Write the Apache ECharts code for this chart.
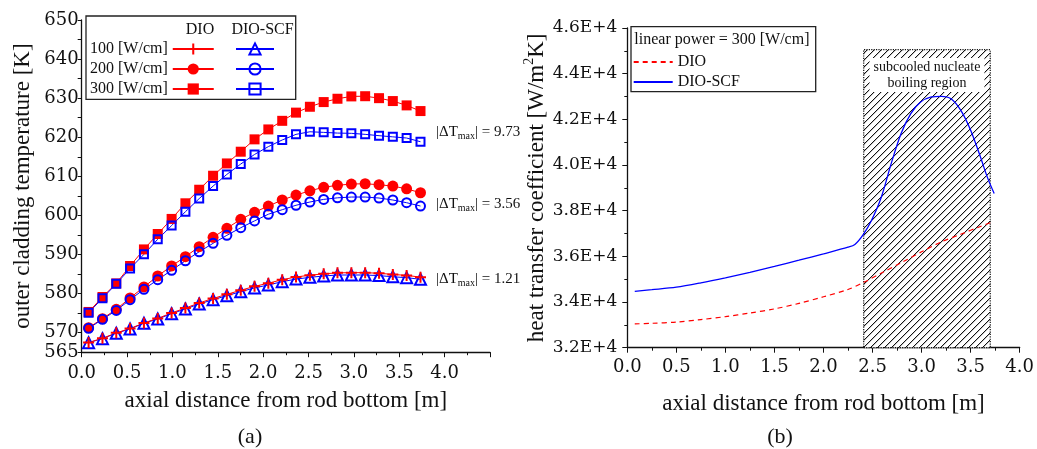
<!DOCTYPE html>
<html><head><meta charset="utf-8">
<script src="https://cdn.jsdelivr.net/npm/echarts@6/dist/echarts.min.js"></script>
<style>html,body{margin:0;padding:0;background:#fff}#c{width:1037px;height:449px}</style>
</head><body><div id="c"></div>
<script>
// ---------- (a) outer cladding temperature ----------
const xPos = [0.076, 0.229, 0.381, 0.533, 0.686, 0.838, 0.991, 1.143, 1.295, 1.448, 1.600, 1.753, 1.905,
              2.057, 2.210, 2.362, 2.515, 2.667, 2.819, 2.972, 3.124, 3.277, 3.429, 3.581, 3.734];
const dio100 = [567.50, 568.55, 569.95, 571.05, 572.50, 573.65, 575.05, 576.30, 577.60, 578.75, 579.80, 580.85, 581.85,
                582.65, 583.55, 584.25, 584.70, 585.05, 585.30, 585.35, 585.35, 585.20, 584.90, 584.65, 584.20];
const scf100 = [567.44, 568.47, 569.85, 570.95, 572.40, 573.50, 574.86, 576.06, 577.34, 578.44, 579.46, 580.49, 581.45,
                582.20, 583.05, 583.70, 584.15, 584.50, 584.75, 584.75, 584.75, 584.60, 584.30, 584.07, 583.65];
const dio200 = [571.28, 573.58, 575.98, 578.87, 581.69, 584.50, 587.06, 589.44, 592.00, 594.40, 596.70, 599.00, 600.80,
                602.40, 603.94, 605.20, 606.30, 607.20, 607.70, 608.03, 608.10, 607.85, 607.50, 606.80, 605.80];
const scf200 = [571.10, 573.40, 575.70, 578.44, 581.10, 583.56, 585.96, 588.40, 590.70, 592.86, 594.90, 596.85, 598.60,
                600.30, 601.46, 602.60, 603.43, 604.10, 604.50, 604.70, 604.70, 604.45, 603.94, 603.25, 602.40];
const dio300 = [575.30, 579.13, 582.60, 587.06, 591.30, 595.24, 599.10, 603.10, 606.57, 610.15, 613.30, 616.30, 619.46,
                622.00, 624.20, 626.30, 627.80, 629.00, 629.85, 630.45, 630.50, 630.00, 629.26, 628.15, 626.70];
const scf300 = [575.10, 578.80, 582.50, 586.40, 590.05, 593.90, 597.40, 600.95, 604.30, 607.50, 610.50, 613.15, 615.60,
                617.60, 619.30, 620.74, 621.40, 621.25, 621.07, 621.00, 620.74, 620.40, 620.10, 619.80, 618.85];
const powerLabels = ['100 [W/cm]', '200 [W/cm]', '300 [W/cm]'];
const dTmax = ['9.73', '3.56', '1.21'];
const leftYLabels = [565, 570, 580, 590, 600, 610, 620, 630, 640, 650];
const leftXLabels = [0, 0.5, 1, 1.5, 2, 2.5, 3, 3.5, 4];

// ---------- (b) heat transfer coefficient ----------
const hxDIO = [0.076, 0.25, 0.5, 0.75, 1.0, 1.25, 1.5, 1.75, 2.0, 2.25, 2.4, 2.6, 2.8, 3.0, 3.2, 3.4, 3.6, 3.71];
const hDIO  = [33040, 33070, 33120, 33230, 33360, 33520, 33700, 33940, 34230, 34550, 34840, 35290, 35740, 36200, 36630, 36970, 37310, 37490];
const hxSCF = [0.076, 0.25, 0.5, 0.75, 1.0, 1.25, 1.5, 1.75, 2.0, 2.25, 2.32, 2.405, 2.49, 2.59, 2.69, 2.79, 2.89, 2.99,
               3.10, 3.20, 3.30, 3.40, 3.50, 3.60, 3.67, 3.74];
const hSCF  = [34470, 34540, 34650, 34840, 35060, 35300, 35560, 35830, 36110, 36400, 36520, 36950, 37580, 38600, 40060, 41370, 42250, 42760,
               42980, 43010, 42900, 42390, 41520, 40350, 39470, 38750];
const nbRegion = [2.41, 3.70];
const nbTop = 45050;

const RED = '#ff0000', BLUE = '#0000ff', SERIF = 'Liberation Serif', TICKF = 'DejaVu Serif';
const pair = (xs, ys) => xs.map((x, i) => [x, ys[i]]);
const PLUS = 'path://M4.5,0 H6.5 V4.5 H11 V6.5 H6.5 V11 H4.5 V6.5 H0 V4.5 H4.5 Z';

// hatch pattern (crisp "/" lines)
const P = 7;
const pc = document.createElement('canvas'); pc.width = P; pc.height = P;
const g = pc.getContext('2d');
g.fillStyle = '#fff'; g.fillRect(0, 0, P, P);
for (let y = 0; y < P; y++) {
  const x = (P - 1 - y + P) % P;
  g.fillStyle = '#111'; g.fillRect(x, y, 1, 1);
  g.fillStyle = '#c8c8c8'; g.fillRect((x + 1) % P, y, 1, 1);
}

function dioSeries(name, data, symbol, size) {
  return { name, type: 'line', xAxisIndex: 0, yAxisIndex: 0, data: pair(xPos, data), symbol, symbolSize: size,
    itemStyle: { color: RED, borderWidth: 0 }, lineStyle: { color: RED, width: 1 }, silent: true };
}
function scfSeries(name, data, symbol, size) {
  return { name, type: 'line', xAxisIndex: 0, yAxisIndex: 0, data: pair(xPos, data), symbol, symbolSize: size,
    itemStyle: { color: 'rgba(255,255,255,0)', borderColor: BLUE, borderWidth: 2 }, lineStyle: { color: BLUE, width: 1 }, silent: true };
}
const tickLab = { fontFamily: TICKF, fontSize: 18, color: '#111' };
const axLine = { lineStyle: { color: '#111', width: 1.3 } };
const nameStyle = { fontFamily: SERIF, fontSize: 23, color: '#111' };

function annot(y, val) {
  return { type: 'text', left: 436, top: y, style: {
    text: '{m||ΔT}{s|max}{m|| = ' + val + '}', fill: '#111',
    rich: { m: { fontFamily: SERIF, fontSize: 15, lineHeight: 16, verticalAlign: 'top', fill: '#111' },
            s: { fontFamily: SERIF, fontSize: 10, lineHeight: 10, padding: [7, 0, 0, 0], verticalAlign: 'bottom', fill: '#111' } } } };
}
const legText = { fontFamily: SERIF, fontSize: 16, lineHeight: 16, color: '#111' };

const option = {
  animation: false,
  textStyle: { fontFamily: SERIF },
  grid: [
    { left: 81.7, top: 20, width: 408.3, height: 332.2 },
    { left: 627.3, top: 28, width: 395.4, height: 319.7 }
  ],
  xAxis: [
    { type: 'value', gridIndex: 0, min: 0, max: 4.5, interval: 0.5, splitLine: { show: false }, axisLine: axLine,
      axisTick: { show: true, length: 5, lineStyle: { color: '#111' } },
      minorTick: { show: true, splitNumber: 2, length: 3, lineStyle: { color: '#111' } },
      axisLabel: { ...tickLab, margin: 12, formatter: v => leftXLabels.some(t => Math.abs(t - v) < 1e-6) ? v.toFixed(1) : '' },
      name: 'axial distance from rod bottom [m]', nameLocation: 'middle', nameGap: 37, nameTextStyle: nameStyle },
    { type: 'value', gridIndex: 1, min: 0, max: 4, interval: 0.5, splitLine: { show: false }, axisLine: axLine,
      axisTick: { show: true, length: 5, lineStyle: { color: '#111' } },
      minorTick: { show: true, splitNumber: 2, length: 3, lineStyle: { color: '#111' } },
      axisLabel: { ...tickLab, margin: 11, formatter: v => v.toFixed(1) },
      name: 'axial distance from rod bottom [m]', nameLocation: 'middle', nameGap: 45, nameTextStyle: nameStyle }
  ],
  yAxis: [
    { type: 'value', gridIndex: 0, min: 565, max: 650, interval: 5, splitLine: { show: false }, axisLine: { show: true, ...axLine },
      axisTick: { show: true, length: 4, lineStyle: { color: '#111' } },
      axisLabel: { ...tickLab, margin: 3, formatter: v => leftYLabels.includes(v) ? String(v) : '' },
      name: 'outer cladding temperature [K]', nameLocation: 'middle', nameGap: 47, nameTextStyle: nameStyle },
    { type: 'value', gridIndex: 1, min: 32000, max: 46000, interval: 2000, splitLine: { show: false }, axisLine: { show: true, ...axLine },
      axisTick: { show: true, length: 5, lineStyle: { color: '#111' } },
      minorTick: { show: true, splitNumber: 2, length: 3, lineStyle: { color: '#111' } },
      axisLabel: { fontFamily: TICKF, fontSize: 17, color: '#111', margin: 10, formatter: v => (v / 10000).toFixed(1) + 'E+4' },
      name: '{m|heat transfer coefficient [W/m}{s|2}{m|K]}', nameLocation: 'middle', nameGap: 75,
      nameTextStyle: { ...nameStyle, rich: {
        m: { fontFamily: SERIF, fontSize: 23, lineHeight: 27, verticalAlign: 'bottom', color: '#111' },
        s: { fontFamily: SERIF, fontSize: 14, lineHeight: 14, verticalAlign: 'top', color: '#111' } } } }
  ],
  legend: [
    { orient: 'vertical', left: 90, top: 41, padding: 0, align: 'right', itemWidth: 41, itemHeight: 14, itemGap: 4, selectedMode: false,
      data: ['DIO 100', 'DIO 200', 'DIO 300'], formatter: n => powerLabels[['DIO 100', 'DIO 200', 'DIO 300'].indexOf(n)],
      textStyle: legText },
    { orient: 'vertical', left: 235, top: 41, padding: 0, itemWidth: 38, itemHeight: 14, itemGap: 4, selectedMode: false,
      data: ['SCF 100', 'SCF 200', 'SCF 300'], formatter: () => ' ', textStyle: legText },
    { orient: 'vertical', left: 632.7, top: 54, padding: 0, itemWidth: 39, itemHeight: 12, itemGap: 4, selectedMode: false,
      itemStyle: { opacity: 0 },
      data: [{ name: 'DIO', itemStyle: { opacity: 0 } }, { name: 'DIO-SCF', itemStyle: { opacity: 0 } }], textStyle: legText }
  ],
  series: [
    dioSeries('DIO 200', dio200, 'circle', 11),
    dioSeries('DIO 300', dio300, 'rect', 10),
    scfSeries('SCF 100', scf100, 'triangle', 11),
    scfSeries('SCF 200', scf200, 'circle', 9),
    scfSeries('SCF 300', scf300, 'rect', 8),
    dioSeries('DIO 100', dio100, PLUS, 11),
    { name: 'DIO', type: 'line', xAxisIndex: 1, yAxisIndex: 1, data: pair(hxDIO, hDIO), symbol: 'none', showSymbol: false, smooth: 0.3, silent: true,
      itemStyle: { color: RED }, lineStyle: { color: RED, width: 1.2, type: [5, 4] },
      markArea: { silent: true,
        itemStyle: { color: { image: pc, repeat: 'repeat' }, borderColor: '#111', borderWidth: 1.2, borderType: 'dotted' },
        label: { show: true, position: 'insideTop', distance: 9, formatter: 'subcooled nucleate\nboiling region',
          fontFamily: SERIF, fontSize: 14, lineHeight: 16, color: '#111', backgroundColor: '#fff', padding: [1, 4, 1, 4] },
        emphasis: { disabled: true },
        data: [[{ xAxis: nbRegion[0], yAxis: 32000 }, { xAxis: nbRegion[1], yAxis: nbTop }]] } },
    { name: 'DIO-SCF', type: 'line', xAxisIndex: 1, yAxisIndex: 1, data: pair(hxSCF, hSCF), symbol: 'none', showSymbol: false, smooth: 0.3, silent: true,
      itemStyle: { color: BLUE }, lineStyle: { color: BLUE, width: 1.3 }, z: 3 }
  ],
  graphic: [
    { type: 'rect', shape: { x: 86, y: 16, width: 209.7, height: 83.3 }, style: { fill: 'none', stroke: '#222', lineWidth: 1.3 } },
    { type: 'text', x: 200, y: 29.3, style: { text: 'DIO', fontFamily: SERIF, fontSize: 16, fill: '#111', align: 'center', verticalAlign: 'middle' } },
    { type: 'text', x: 262.5, y: 29.3, style: { text: 'DIO-SCF', fontFamily: SERIF, fontSize: 16, fill: '#111', align: 'center', verticalAlign: 'middle' } },
    annot(124, dTmax[0]), annot(196, dTmax[1]), annot(271, dTmax[2]),
    { type: 'rect', shape: { x: 631, y: 26.7, width: 184.7, height: 65 }, style: { fill: 'none', stroke: '#222', lineWidth: 1.3 } },
    { type: 'text', x: 634.3, y: 39.3, style: { text: 'linear power = 300 [W/cm]', fontFamily: SERIF, fontSize: 16, fill: '#111', align: 'left', verticalAlign: 'middle' } },
    { type: 'text', x: 250, y: 437, style: { text: '(a)', fontFamily: SERIF, fontSize: 22, fill: '#111', align: 'center', verticalAlign: 'middle' } },
    { type: 'text', x: 780, y: 437, style: { text: '(b)', fontFamily: SERIF, fontSize: 22, fill: '#111', align: 'center', verticalAlign: 'middle' } }
  ]
};
echarts.init(document.getElementById('c'), null, { renderer: 'canvas' }).setOption(option);
</script></body></html>
